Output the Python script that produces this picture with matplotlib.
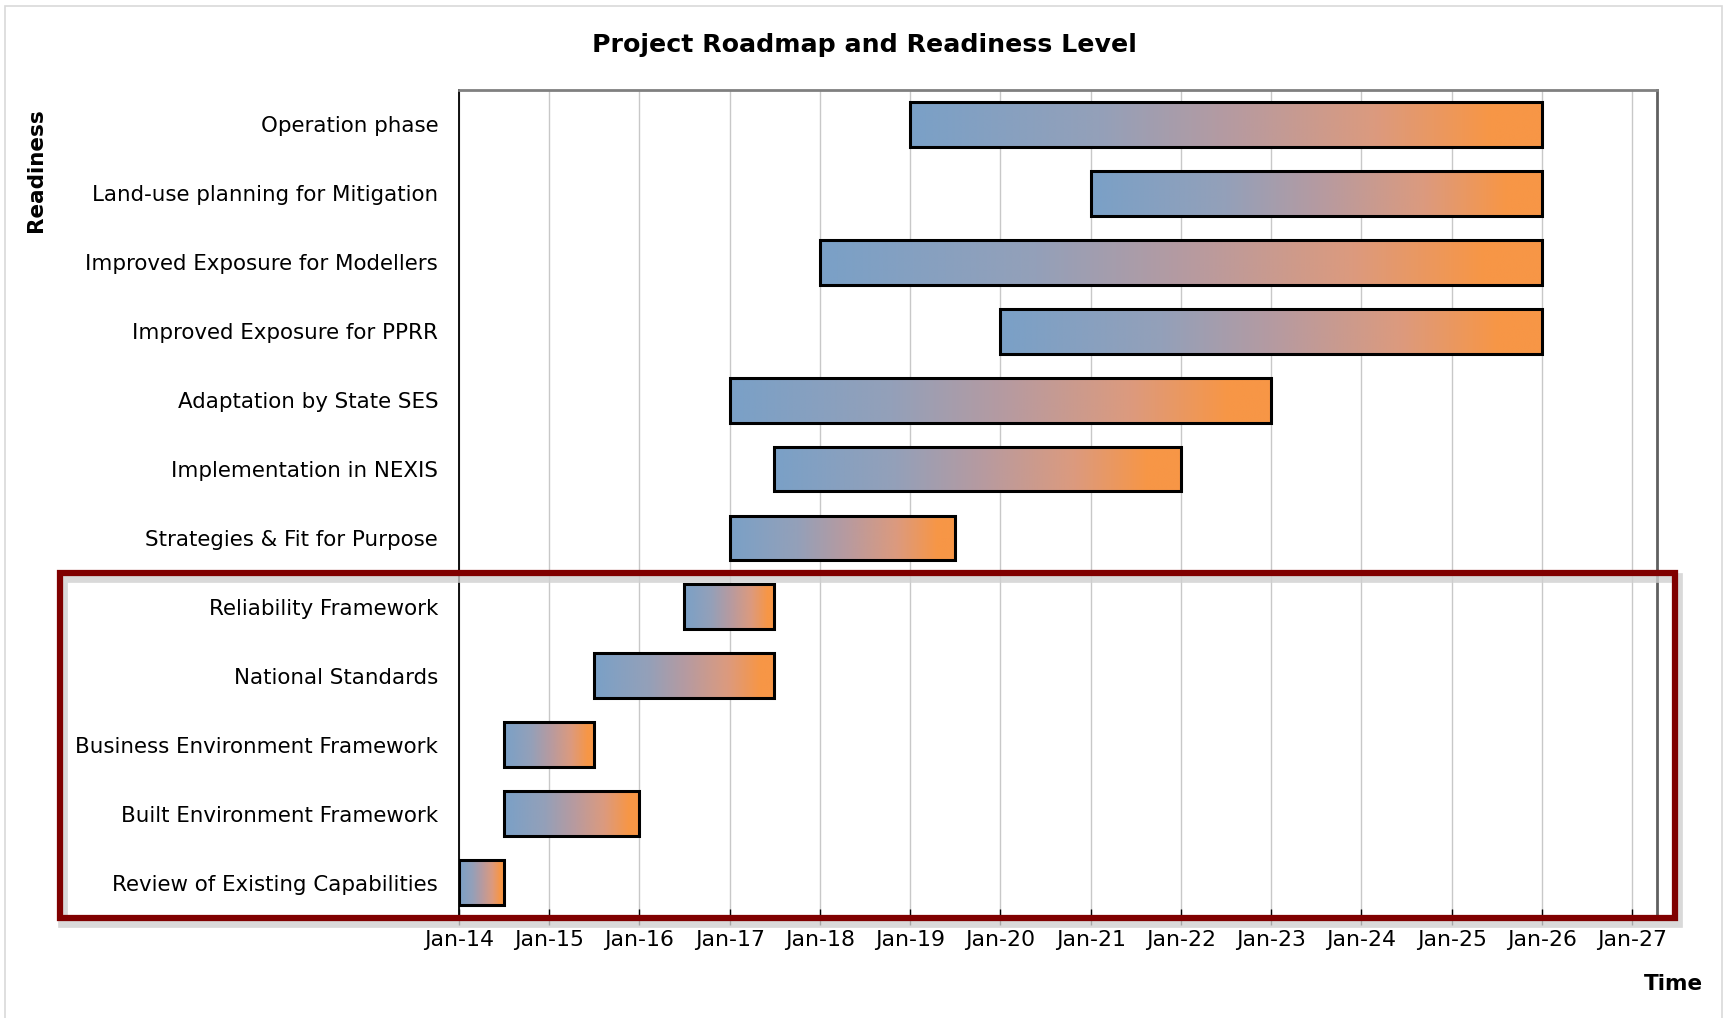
import numpy as np
import matplotlib.pyplot as plt
import matplotlib.dates as mdates
from matplotlib.colors import LinearSegmentedColormap
from matplotlib.patches import Rectangle
from datetime import date

# tasks listed bottom to top
tasks = [
    "Review of Existing Capabilities",
    "Built Environment Framework",
    "Business Environment Framework",
    "National Standards",
    "Reliability Framework",
    "Strategies & Fit for Purpose",
    "Implementation in NEXIS",
    "Adaptation by State SES",
    "Improved Exposure for PPRR",
    "Improved Exposure for Modellers",
    "Land-use planning for Mitigation",
    "Operation phase",
]
starts = ["2014-01-01", "2014-07-01", "2014-07-01", "2015-07-01", "2016-07-01", "2017-01-01",
          "2017-07-01", "2017-01-01", "2020-01-01", "2018-01-01", "2021-01-01", "2019-01-01"]
ends = ["2014-07-01", "2016-01-01", "2015-07-01", "2017-07-01", "2017-07-01", "2019-07-01",
        "2022-01-01", "2023-01-01", "2026-01-01", "2026-01-01", "2026-01-01", "2026-01-01"]
tick_years = list(range(2014, 2028))

grad = LinearSegmentedColormap.from_list("bo", [(0, "#7aa0c7"), (0.3, "#94a0b9"), (0.52, "#b89a9f"),
                                                (0.74, "#dc9a7e"), (0.92, "#f79646"), (1, "#f79646")])

fig = plt.figure(figsize=(17.25, 10.18), dpi=100)
plt.rcParams['font.family'] = ['DejaVu Sans']

# outer frame
fig.patches.append(Rectangle((5 / 1725, -0.01), 1717 / 1725, 1.004, transform=fig.transFigure,
                             fill=False, edgecolor="#d9d9d9", lw=1.2))

ax = fig.add_axes([459 / 1725, 1 - 917 / 1018, (1657 - 459) / 1725, (917 - 90) / 1018])

x0 = mdates.date2num(date(2014, 1, 1))
x1 = mdates.date2num(date(2027, 4, 12))

ramp = np.linspace(0, 1, 256).reshape(1, -1)
h = 0.65
for i, (s, e) in enumerate(zip(starts, ends)):
    a = mdates.datestr2num(s)
    b = mdates.datestr2num(e)
    ax.imshow(ramp, cmap=grad, aspect="auto", extent=(a, b, i - h / 2, i + h / 2),
              interpolation="bilinear", zorder=3)
    ax.add_patch(Rectangle((a, i - h / 2), b - a, h, fill=False, edgecolor="black", lw=2.2, zorder=4))

ax.set_xlim(x0, x1)
ax.set_ylim(-0.5, len(tasks) - 0.5)

ax.set_xticks([mdates.date2num(date(y, 1, 1)) for y in tick_years])
ax.xaxis.set_major_formatter(mdates.DateFormatter("%b-%y"))
ax.set_yticks(range(len(tasks)))
ax.set_yticklabels(tasks)
ax.tick_params(axis="x", direction="inout", length=11, width=1, labelsize=15.8, pad=4)
ax.tick_params(axis="y", length=0, labelsize=15.4, pad=15)
ax.grid(axis="x", color="#c8c8c8", lw=1, zorder=0)
ax.set_axisbelow(True)

ax.spines["left"].set_color("black")
ax.spines["left"].set_linewidth(1.3)
ax.spines["top"].set_color("#808080")
ax.spines["top"].set_linewidth(2)
ax.spines["right"].set_color("#606060")
ax.spines["right"].set_linewidth(2)
ax.spines["bottom"].set_color("black")

# red highlight box with shadow
bx0, by0 = 60 / 1725, 1 - 918 / 1018
bw, bh = (1675 - 60) / 1725, (918 - 573) / 1018
shadow = Rectangle((bx0 + 3 / 1725, by0 - 5 / 1018), bw, bh, transform=fig.transFigure,
                   fill=False, edgecolor="#d0d0d0", lw=7, alpha=0.8, zorder=5)
box = Rectangle((bx0, by0), bw, bh, transform=fig.transFigure,
                fill=False, edgecolor="#800000", lw=4.5, zorder=6)
fig.patches.extend([shadow, box])

fig.text(864 / 1725, 1 - 45 / 1018, "Project Roadmap and Readiness Level",
         ha="center", va="center", fontsize=18.2, fontweight="bold")
fig.text(36 / 1725, 1 - 170 / 1018, "Readiness", rotation=90,
         ha="center", va="center", fontsize=15.5, fontweight="bold")
fig.text(1673 / 1725, 1 - 984 / 1018, "Time", ha="center", va="center",
         fontsize=15.5, fontweight="bold")

fig.savefig("out.png", dpi=100)
